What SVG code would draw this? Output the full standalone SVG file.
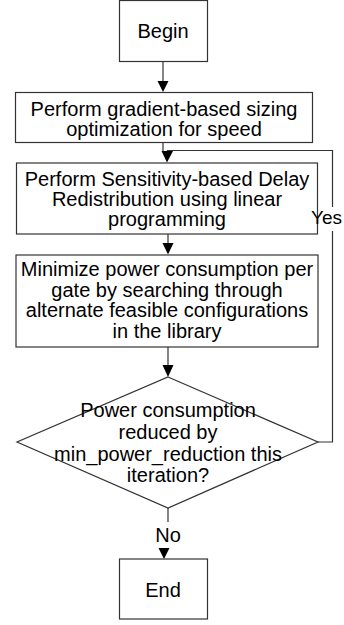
<svg xmlns="http://www.w3.org/2000/svg" width="344" height="625" viewBox="0 0 344 625">
<style>
.box{fill:#fff;stroke:#333;stroke-width:1.2}
.ln{fill:none;stroke:#333;stroke-width:1.2}
.ah{fill:#000;stroke:none}
text{font-family:"Liberation Sans",Arial,sans-serif;font-size:20px;fill:#000;text-anchor:middle}
</style>
<rect width="344" height="625" fill="#fff"/>
<g id="connectors">
<line class="ln" x1="163" y1="61" x2="163" y2="82"/>
<polygon class="ah" points="157.5,81 168.5,81 163,92"/>
<line class="ln" x1="163" y1="142" x2="163" y2="152"/>
<polyline class="ln" points="318,442 332.5,442 332.5,150.5 167,150.5"/>
<polygon class="ah" points="161.5,151 173,151 167,162.5"/>
<line class="ln" x1="168" y1="234" x2="168" y2="244"/>
<polygon class="ah" points="162.5,243 173.5,243 168,254.5"/>
<line class="ln" x1="168" y1="347" x2="168" y2="366"/>
<polygon class="ah" points="162.5,365 173.5,365 168,377"/>
<line class="ln" x1="168" y1="508" x2="168" y2="522"/>
<polygon class="ah" points="158.5,548 169.5,548 164,559"/>
<rect x="319" y="207" width="25" height="24" fill="#fff"/>
</g>
<g id="begin">
<rect class="box" x="119.5" y="0.5" width="88" height="61"/>
<text x="163" y="38">Begin</text>
</g>
<g id="sizing">
<rect class="box" x="15.5" y="92.5" width="297" height="50"/>
<text x="164" y="116">Perform gradient-based sizing</text>
<text x="164" y="136">optimization for speed</text>
</g>
<g id="redistribution">
<rect class="box" x="16.5" y="163" width="301" height="71"/>
<text x="167" y="186">Perform Sensitivity-based Delay</text>
<text x="167" y="206">Redistribution using linear</text>
<text x="167" y="226">programming</text>
</g>
<g id="minimize">
<rect class="box" x="16" y="255" width="302" height="92"/>
<text x="167" y="276">Minimize power consumption per</text>
<text x="167" y="297">gate by searching through</text>
<text x="167" y="317">alternate feasible configurations</text>
<text x="167" y="338">in the library</text>
</g>
<g id="decision">
<polygon class="box" points="168,377 318,442 168,508 17,442"/>
<text x="168" y="417">Power consumption</text>
<text x="168" y="439">reduced by</text>
<text x="168" y="461">min_power_reduction this</text>
<text x="168" y="482">iteration?</text>
</g>
<g id="end">
<rect class="box" x="119.5" y="559" width="88" height="60"/>
<text x="163" y="597">End</text>
</g>
<g id="labels">
<text x="311" y="224" style="text-anchor:start;font-size:19px">Yes</text>
<text x="168" y="542">No</text>
</g>
</svg>
